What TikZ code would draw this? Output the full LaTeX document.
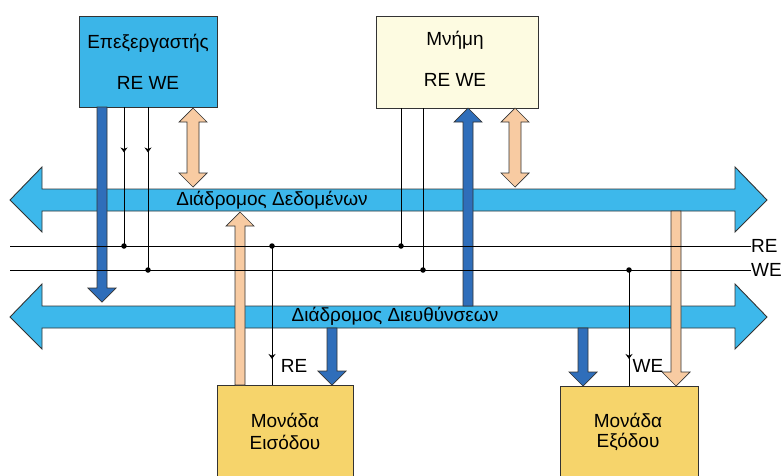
\documentclass[tikz,border=0pt]{standalone}
\usepackage{fontspec}
\setmainfont{Liberation Sans}
\usetikzlibrary{decorations.markings,arrows.meta}
\definecolor{busblue}{HTML}{3DB8EB}
\definecolor{procblue}{HTML}{3BB5E8}
\definecolor{darkblue}{HTML}{2F6EBA}
\definecolor{peach}{HTML}{F8CBA2}
\definecolor{unityellow}{HTML}{F6D46B}
\definecolor{memcream}{HTML}{FDFBE1}
\definecolor{edge}{HTML}{333333}
\newcommand\fatdown[5]{\filldraw[#1] (#2-#5,#3) -- (#2-#5,#4-14) -- (#2-14,#4-14) -- (#2,#4) -- (#2+14,#4-14) -- (#2+#5,#4-14) -- (#2+#5,#3) -- cycle;}
\newcommand\fatup[5]{\filldraw[#1] (#2-#5,#3) -- (#2-#5,#4+14) -- (#2-14,#4+14) -- (#2,#4) -- (#2+14,#4+14) -- (#2+#5,#4+14) -- (#2+#5,#3) -- cycle;}
\newcommand\fatboth[5]{\filldraw[#1] (#2,#3) -- (#2+14,#3+14) -- (#2+#5,#3+14) -- (#2+#5,#4-14) -- (#2+14,#4-14) -- (#2,#4) -- (#2-14,#4-14) -- (#2-#5,#4-14) -- (#2-#5,#3+14) -- (#2-14,#3+14) -- cycle;}
\newcommand\hbus[1]{\filldraw[busstyle] (10,#1) -- (42,#1-33) -- (42,#1-11) -- (735,#1-11) -- (735,#1-33) -- (767,#1) -- (735,#1+32) -- (735,#1+11) -- (42,#1+11) -- (42,#1+32) -- cycle;}
\begin{document}
\begin{tikzpicture}[x=1pt,y=-1pt,
  box/.style={draw=edge,line width=0.9pt,inner sep=0pt},
  txt/.style={font=\fontsize{19}{22}\selectfont,inner sep=0pt},
  busstyle/.style={fill=busblue,draw=edge,line width=0.9pt},
  bluearrow/.style={fill=darkblue,draw=edge,line width=0.7pt},
  peacharrow/.style={fill=peach,draw=edge,line width=0.7pt},
  sig/.style={draw=black,line width=0.8pt},
  dot/.style={circle,fill=black,inner sep=0pt,minimum size=5.5pt},
  tipmark/.style={postaction={decorate},decoration={markings,mark=at position #1 with {\arrow{Stealth[length=5pt,width=7pt]}}}}
]
\useasboundingbox (0,0) rectangle (781,475);
\clip (0,0) rectangle (781,475);

% buses
\hbus{200}
\hbus{317}
\node[txt] (dbus) at (272,200) {Διάδρομος Δεδομένων};
\node[txt] (abus) at (395,316) {Διάδρομος Διευθύνσεων};

% boxes
\node[box,fill=procblue,minimum width=138pt,minimum height=91pt] (proc) at (148,61.5) {};
\node[box,fill=memcream,minimum width=162pt,minimum height=92pt] (mem) at (457,62) {};
\node[box,fill=unityellow,minimum width=136pt,minimum height=100pt] (inp) at (285,435) {};
\node[box,fill=unityellow,minimum width=138pt,minimum height=100pt] (outp) at (629,436) {};

\node[txt] (procT) at (148,43) {Επεξεργαστής};
\node[txt] (procS) at (148,83) {RE WE};
\node[txt] (memT) at (455,40) {Μνήμη};
\node[txt] (memS) at (455,80) {RE WE};
\node[txt] (inpT) at (285,420) {Μονάδα};
\node[txt] (inpS) at (285,442) {Εισόδου};
\node[txt] (outT) at (628,420) {Μονάδα};
\node[txt] (outS) at (628,442) {Εξόδου};

% fat arrows
\fatdown{bluearrow}{102}{107}{302}{5}
\fatup{bluearrow}{468}{306}{108}{5}
\fatdown{bluearrow}{332}{328}{385}{5}
\fatdown{bluearrow}{583}{328}{386}{5}
\fatboth{peacharrow}{193}{108}{187}{6}
\fatboth{peacharrow}{515}{108}{187}{6}
\fatup{peacharrow}{240}{385}{212}{5}
\fatdown{peacharrow}{676}{211}{386}{5}

% control lines
\coordinate (reL) at (10,246);
\coordinate (weL) at (10,270);
\node[txt,anchor=west] (reLab) at (751,246) {RE};
\node[txt,anchor=west] (weLab) at (751,270) {WE};
\draw[sig] (reL) -- (reLab.west);
\draw[sig] (weL) -- (weLab.west);

\node[dot] (d1) at (124,246) {};
\node[dot] (d2) at (148,270) {};
\node[dot] (d3) at (401,246) {};
\node[dot] (d4) at (423,270) {};
\node[dot] (d5) at (272,246) {};
\node[dot] (d6) at (629,270) {};

\draw[sig,tipmark=45pt] (proc.south -| d1) -- (d1.center);
\draw[sig,tipmark=45pt] (proc.south -| d2) -- (d2.center);
\draw[sig] (mem.south -| d3) -- (d3.center);
\draw[sig] (mem.south -| d4) -- (d4.center);
\draw[sig,tipmark=113pt] (d5.center) -- (inp.north -| d5);
\draw[sig,tipmark=89pt] (d6.center) -- (outp.north -| d6);

\node[txt] (reIn) at (294,366) {RE};
\node[txt] (weOut) at (648,366) {WE};
\end{tikzpicture}
\end{document}
